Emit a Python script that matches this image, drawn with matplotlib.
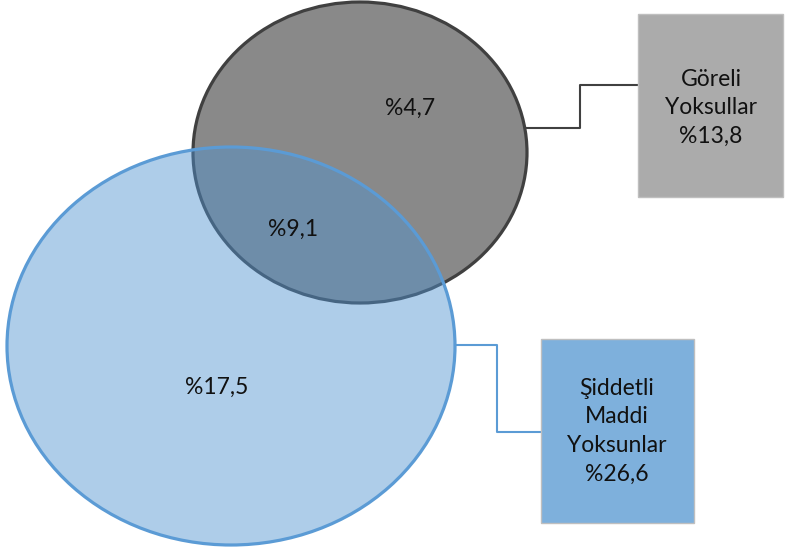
import matplotlib.pyplot as plt
from matplotlib.patches import Ellipse, Rectangle

# region labels (Venn parts) and the two set totals
region_labels = ["%4,7", "%9,1", "%17,5"]
set_names = ["Göreli\nYoksullar", "Şiddetli\nMaddi\nYoksunlar"]
set_totals = ["%13,8", "%26,6"]

plt.rcParams['font.family'] = ['Lato', 'DejaVu Sans']

fig = plt.figure(figsize=(7.87, 5.51), dpi=100)
ax = fig.add_axes([0, 0, 1, 1])
ax.set_xlim(0, 787)
ax.set_ylim(551, 0)
ax.axis("off")

# grey set (below)
grey = Ellipse((360, 152.5), 334, 301, facecolor="#898989", edgecolor="#404040",
               lw=2.3, zorder=1)
ax.add_patch(grey)
# blue set (on top, semi transparent fill)
blue_fill = Ellipse((231, 346), 448, 398, facecolor="#4F92D1", alpha=0.46,
                    edgecolor="none", zorder=2)
blue_edge = Ellipse((231, 346), 448, 398, facecolor="none", edgecolor="#5B9BD5",
                    lw=2.3, zorder=3)
ax.add_patch(blue_fill)
ax.add_patch(blue_edge)

# connector lines
ax.plot([527, 580, 580, 638], [128, 128, 85, 85], color="#404040", lw=1.5, zorder=0)
ax.plot([455, 497, 497, 541], [345, 345, 432, 432], color="#5B9BD5", lw=1.5, zorder=0)

# label boxes
ax.add_patch(Rectangle((638, 14), 145, 183, facecolor="#ABABAB", edgecolor="#BFBFBF",
                       lw=1, zorder=1))
ax.add_patch(Rectangle((541, 339), 153, 184, facecolor="#7EB0DC", edgecolor="#BFBFBF",
                       lw=1, zorder=1))

fs = 16.5
for txt, (x, y) in zip(region_labels, [(410, 108), (293, 229), (217, 387)]):
    ax.text(x, y, txt, ha="center", va="center", fontsize=fs, color="#111111", zorder=5)

ax.text(711, 108, set_names[0] + "\n" + set_totals[0], ha="center", va="center",
        fontsize=fs, color="#111111", linespacing=1.45, zorder=5)
ax.text(617, 431, set_names[1] + "\n" + set_totals[1], ha="center", va="center",
        fontsize=fs, color="#111111", linespacing=1.45, zorder=5)

fig.savefig("out.png", dpi=100)
